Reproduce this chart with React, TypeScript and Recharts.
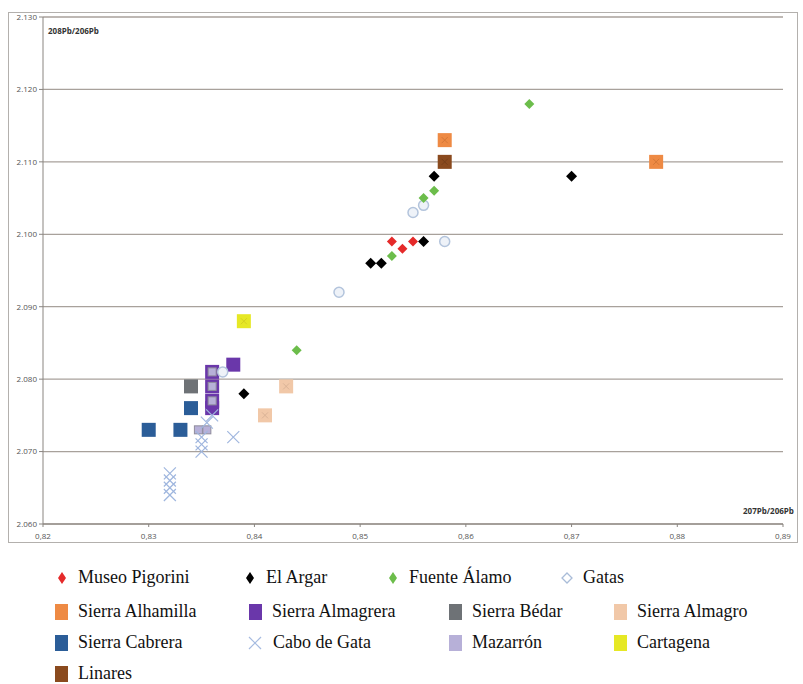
import React from "react";
import {
  ScatterChart,
  Scatter,
  XAxis,
  YAxis,
  CartesianGrid,
} from "recharts";

type Pt = { x: number; y: number };

const xTicks = [0.82, 0.83, 0.84, 0.85, 0.86, 0.87, 0.88, 0.89];
const yTicks = [2.06, 2.07, 2.08, 2.09, 2.1, 2.11, 2.12, 2.13];

const museoPigorini: Pt[] = [
  { x: 0.853, y: 2.099 },
  { x: 0.854, y: 2.098 },
  { x: 0.855, y: 2.099 },
];
const elArgar: Pt[] = [
  { x: 0.851, y: 2.096 },
  { x: 0.852, y: 2.096 },
  { x: 0.856, y: 2.099 },
  { x: 0.857, y: 2.108 },
  { x: 0.87, y: 2.108 },
  { x: 0.839, y: 2.078 },
];
const fuenteAlamo: Pt[] = [
  { x: 0.866, y: 2.118 },
  { x: 0.857, y: 2.106 },
  { x: 0.856, y: 2.105 },
  { x: 0.853, y: 2.097 },
  { x: 0.844, y: 2.084 },
];
const gatas: Pt[] = [
  { x: 0.855, y: 2.103 },
  { x: 0.856, y: 2.104 },
  { x: 0.858, y: 2.099 },
  { x: 0.848, y: 2.092 },
  { x: 0.837, y: 2.081 },
];
const sierraAlhamilla: Pt[] = [
  { x: 0.858, y: 2.113 },
  { x: 0.878, y: 2.11 },
];
const sierraAlmagrera: Pt[] = [
  { x: 0.838, y: 2.082 },
  { x: 0.836, y: 2.081 },
  { x: 0.836, y: 2.079 },
  { x: 0.836, y: 2.077 },
  { x: 0.836, y: 2.076 },
];
const sierraBedar: Pt[] = [{ x: 0.834, y: 2.079 }];
const sierraAlmagro: Pt[] = [
  { x: 0.843, y: 2.079 },
  { x: 0.841, y: 2.075 },
];
const sierraCabrera: Pt[] = [
  { x: 0.83, y: 2.073 },
  { x: 0.833, y: 2.073 },
  { x: 0.834, y: 2.076 },
];
const caboDeGata: Pt[] = [
  { x: 0.838, y: 2.072 },
  { x: 0.832, y: 2.067 },
  { x: 0.832, y: 2.066 },
  { x: 0.832, y: 2.065 },
  { x: 0.832, y: 2.064 },
  { x: 0.835, y: 2.07 },
  { x: 0.835, y: 2.071 },
  { x: 0.835, y: 2.072 },
  { x: 0.8355, y: 2.074 },
  { x: 0.836, y: 2.075 },
];
const mazarron: Pt[] = [
  { x: 0.836, y: 2.081 },
  { x: 0.836, y: 2.079 },
  { x: 0.836, y: 2.077 },
  { x: 0.8347, y: 2.073 },
  { x: 0.8355, y: 2.073 },
];
const cartagena: Pt[] = [{ x: 0.839, y: 2.088 }];
const linares: Pt[] = [{ x: 0.858, y: 2.11 }];

const diamond = (color: string, r = 5) => (p: any) => {
  const { cx, cy } = p;
  return (
    <polygon
      points={`${cx},${cy - r} ${cx + r},${cy} ${cx},${cy + r} ${cx - r},${cy}`}
      fill={color}
    />
  );
};

const square = (color: string, inner?: string, s = 14) => (p: any) => {
  const { cx, cy } = p;
  const h = s / 2;
  return (
    <g>
      <rect x={cx - h} y={cy - h} width={s} height={s} fill={color} />
      {inner && (
        <g stroke={inner} strokeWidth={0.8} opacity={0.7}>
          <line x1={cx - 3} y1={cy - 3} x2={cx + 3} y2={cy + 3} />
          <line x1={cx - 3} y1={cy + 3} x2={cx + 3} y2={cy - 3} />
        </g>
      )}
    </g>
  );
};

const smallSquare = (color: string, edge: string) => (p: any) => {
  const { cx, cy } = p;
  return (
    <rect x={cx - 4} y={cy - 4} width={8} height={8} fill={color} stroke={edge} strokeWidth={1} />
  );
};

const circle = (p: any) => (
  <circle cx={p.cx} cy={p.cy} r={5} fill="#eef2f8" stroke="#b3c4dc" strokeWidth={1.5} />
);

const cross = (p: any) => {
  const { cx, cy } = p;
  const r = 6;
  return (
    <g stroke="#9fb6de" strokeWidth={1.2}>
      <line x1={cx - r} y1={cy - r} x2={cx + r} y2={cy + r} />
      <line x1={cx - r} y1={cy + r} x2={cx + r} y2={cy - r} />
    </g>
  );
};

const LegendIcon = ({ kind, color }: { kind: string; color: string }) => {
  if (kind === "diamond")
    return (
      <svg width={12} height={12}>
        <polygon points="6,0 10,6 6,12 2,6" fill={color} />
      </svg>
    );
  if (kind === "circle")
    return (
      <svg width={12} height={12}>
        <polygon points="6,1 11,6 6,11 1,6" fill="none" stroke={color} strokeWidth={1.3} />
      </svg>
    );
  if (kind === "cross")
    return (
      <svg width={16} height={16}>
        <g stroke={color} strokeWidth={1.2}>
          <line x1={2} y1={2} x2={14} y2={14} />
          <line x1={2} y1={14} x2={14} y2={2} />
        </g>
      </svg>
    );
  return (
    <svg width={13} height={16}>
      <rect x={0} y={0} width={13} height={16} fill={color} />
    </svg>
  );
};

const legendItems: { name: string; kind: string; color: string; left: number; top: number }[] = [
  { name: "Museo Pigorini", kind: "diamond", color: "#e52a2a", left: 56, top: 567 },
  { name: "El Argar", kind: "diamond", color: "#000000", left: 244, top: 567 },
  { name: "Fuente Álamo", kind: "diamond", color: "#6cbd4b", left: 387, top: 567 },
  { name: "Gatas", kind: "circle", color: "#a9bcd8", left: 561, top: 567 },
  { name: "Sierra Alhamilla", kind: "square", color: "#ee8a44", left: 55, top: 601 },
  { name: "Sierra Almagrera", kind: "square", color: "#6a37aa", left: 249, top: 601 },
  { name: "Sierra Bédar", kind: "square", color: "#6e7276", left: 449, top: 601 },
  { name: "Sierra Almagro", kind: "square", color: "#f1c8a8", left: 614, top: 601 },
  { name: "Sierra Cabrera", kind: "square", color: "#2b5d98", left: 55, top: 632 },
  { name: "Cabo de Gata", kind: "cross", color: "#a6bbe0", left: 247, top: 632 },
  { name: "Mazarrón", kind: "square", color: "#b7b0d8", left: 449, top: 632 },
  { name: "Cartagena", kind: "square", color: "#e6e825", left: 614, top: 632 },
  { name: "Linares", kind: "square", color: "#8a4a1e", left: 55, top: 663 },
];

const fmtX = (v: number) => v.toFixed(2).replace(".", ",");
const fmtY = (v: number) => v.toFixed(3);

const serif = "Liberation Serif, serif";

export default function App() {
  const tickStyle = { fontSize: 8, fill: "#555", fontFamily: "'Open Sans', sans-serif" };
  return (
    <div
      style={{
        position: "absolute",
        left: 0,
        top: 0,
        width: 803,
        height: 684,
        background: "#fff",
      }}
    >
      <div
        style={{
          position: "absolute",
          left: 8,
          top: 12,
          width: 790,
          height: 531,
          border: "1px solid #b3b0ad",
          boxSizing: "border-box",
        }}
      />
      <div style={{ position: "absolute", left: 0, top: 0 }}>
        <ScatterChart width={803} height={548} margin={{ top: 17, right: 20, bottom: 0, left: 0 }}>
          <CartesianGrid vertical={false} stroke="#a8a19b" strokeWidth={1.3} />
          <XAxis
            type="number"
            dataKey="x"
            domain={[0.82, 0.89]}
            ticks={xTicks}
            tickFormatter={fmtX}
            tick={tickStyle}
            height={24}
            stroke="#8a8580"
            tickSize={3}
            tickMargin={6}
          />
          <YAxis
            type="number"
            dataKey="y"
            domain={[2.06, 2.13]}
            ticks={yTicks}
            tickFormatter={fmtY}
            tick={tickStyle}
            width={43}
            stroke="#8a8580"
            tickSize={4}
            tickMargin={2}
          />
          <Scatter name="Sierra Cabrera" data={sierraCabrera} shape={square("#2b5d98")} isAnimationActive={false} />
          <Scatter name="Sierra Bédar" data={sierraBedar} shape={square("#6e7276")} isAnimationActive={false} />
          <Scatter name="Sierra Almagrera" data={sierraAlmagrera} shape={square("#6a37aa")} isAnimationActive={false} />
          <Scatter name="Mazarrón" data={mazarron} shape={smallSquare("#b7b0d8", "#8f8c9c")} isAnimationActive={false} />
          <Scatter name="Sierra Almagro" data={sierraAlmagro} shape={square("#f1c8a8", "#c9a58c")} isAnimationActive={false} />
          <Scatter name="Cartagena" data={cartagena} shape={square("#e6e825", "#c8c020")} isAnimationActive={false} />
          <Scatter name="Sierra Alhamilla" data={sierraAlhamilla} shape={square("#ee8a44", "#c06a30")} isAnimationActive={false} />
          <Scatter name="Linares" data={linares} shape={square("#8a4a1e", "#6a3818")} isAnimationActive={false} />
          <Scatter name="Cabo de Gata" data={caboDeGata} shape={cross} isAnimationActive={false} />
          <Scatter name="Gatas" data={gatas} shape={circle} isAnimationActive={false} />
          <Scatter name="Fuente Álamo" data={fuenteAlamo} shape={diamond("#6cbd4b", 5)} isAnimationActive={false} />
          <Scatter name="El Argar" data={elArgar} shape={diamond("#000000", 5.5)} isAnimationActive={false} />
          <Scatter name="Museo Pigorini" data={museoPigorini} shape={diamond("#e52a2a", 5)} isAnimationActive={false} />
        </ScatterChart>
      </div>
      <div
        style={{
          position: "absolute",
          left: 48,
          top: 25,
          fontSize: 8,
          fontWeight: "bold",
          color: "#333",
          fontFamily: "'Open Sans', sans-serif",
        }}
      >
        208Pb/206Pb
      </div>
      <div
        style={{
          position: "absolute",
          left: 743,
          top: 505,
          fontSize: 8,
          fontWeight: "bold",
          color: "#333",
          fontFamily: "'Open Sans', sans-serif",
        }}
      >
        207Pb/206Pb
      </div>
      {legendItems.map((it) => (
        <div
          key={it.name}
          style={{
            position: "absolute",
            left: it.left,
            top: it.top,
            display: "flex",
            alignItems: "center",
            gap: 10,
            fontSize: 18,
            color: "#111",
            whiteSpace: "nowrap",
          }}
        >
          <LegendIcon kind={it.kind} color={it.color} />
          <span style={{ fontFamily: serif }}>{it.name}</span>
        </div>
      ))}
    </div>
  );
}
